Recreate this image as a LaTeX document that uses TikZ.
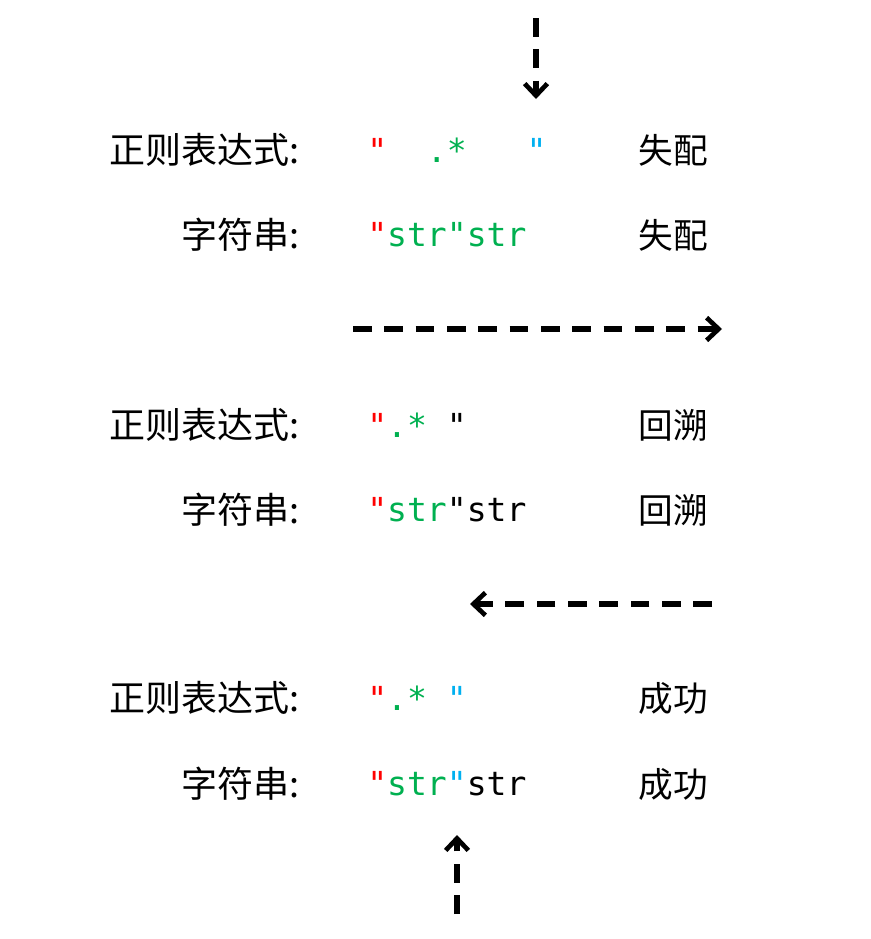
\documentclass[tikz,border=0pt]{standalone}
\usepackage{fontspec}
\usepackage{xcolor}
\usepackage{tikz}
\usetikzlibrary{arrows.meta}
\newfontfamily\cjk{Noto Sans CJK SC}
\setmonofont{DejaVu Sans Mono}
\definecolor{regred}{HTML}{FF0000}
\definecolor{reggreen}{HTML}{00B050}
\definecolor{regblue}{HTML}{00B0F0}
\newcommand\blank{\hphantom{x}}

\begin{document}
\begin{tikzpicture}[x=0.75pt,y=-0.75pt]
\tikzstyle{every node}=[inner sep=0pt];
\tikzstyle{lab}=[anchor=east,font=\cjk\fontsize{27}{32}\selectfont];
\tikzstyle{code}=[anchor=west,font=\ttfamily\fontsize{24.8}{30}\selectfont];
\tikzstyle{state}=[font=\cjk\fontsize{26}{31}\selectfont];
\tikzstyle{move}=[line width=3.8pt,dash pattern=on 14pt off 9.5pt,-{Straight Barb[length=9pt,width=17pt,line width=3.5pt]}];
\useasboundingbox (0,0) rectangle (871,939);

% first try: fails
\path (300,150) node[lab] (l1) {正则表达式:};
\path (300,235) node[lab] (m1) {字符串:};
\path (367,150) node[code] (r1) {\textcolor{regred}{"}\blank\blank\textcolor{reggreen}{.*}\blank\blank\blank\textcolor{regblue}{"}};
\path (367,235) node[code] (s1) {\textcolor{regred}{"}\textcolor{reggreen}{str"str}};
\path (673,150) node[state] (t1) {失配};
\path (673,235) node[state] (u1) {失配};

% backtrack
\path (300,425) node[lab] (l2) {正则表达式:};
\path (300,510) node[lab] (m2) {字符串:};
\path (367,425) node[code] (r2) {\textcolor{regred}{"}\textcolor{reggreen}{.*}\blank"};
\path (367,510) node[code] (s2) {\textcolor{regred}{"}\textcolor{reggreen}{str}"str};
\path (673,425) node[state] (t2) {回溯};
\path (673,510) node[state] (u2) {回溯};

% match
\path (300,698) node[lab] (l3) {正则表达式:};
\path (300,784) node[lab] (m3) {字符串:};
\path (367,698) node[code] (r3) {\textcolor{regred}{"}\textcolor{reggreen}{.*}\blank\textcolor{regblue}{"}};
\path (367,784) node[code] (s3) {\textcolor{regred}{"}\textcolor{reggreen}{str}\textcolor{regblue}{"}str};
\path (673,698) node[state] (t3) {成功};
\path (673,784) node[state] (u3) {成功};

\coordinate (a0) at (536,18);
\coordinate (a1) at (536,99);
\coordinate (b0) at (353,329);
\coordinate (b1) at (722,329);
\coordinate (c0) at (712,604);
\coordinate (c1) at (470,604);
\coordinate (d0) at (457,914);
\coordinate (d1) at (457,835);
\draw[move] (a0) -- (a1);
\draw[move] (b0) -- (b1);
\draw[move] (c0) -- (c1);
\draw[move] (d0) -- (d1);
\end{tikzpicture}
\end{document}
